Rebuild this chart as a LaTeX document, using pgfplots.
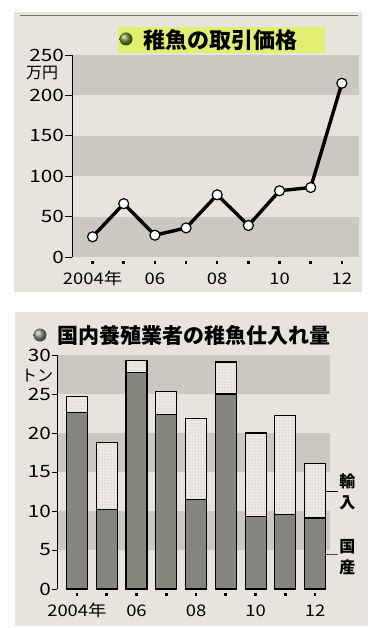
\documentclass[border=0pt]{standalone}
\usepackage{fontspec}
\setmainfont{Noto Sans CJK JP}
\newfontfamily\numfont[FakeStretch=1.15]{Noto Sans CJK JP}
\newfontfamily\ynumfont[FakeStretch=1.22]{Noto Sans CJK JP}
\usepackage{pgfplots}
\usepackage{pgfplotstable}
\pgfplotsset{compat=1.18}
\usetikzlibrary{patterns}
\definecolor{paper}{HTML}{E6E4DD}
\definecolor{band}{HTML}{CAC8C0}
\definecolor{dom}{HTML}{86867E}
\definecolor{imp}{HTML}{ECEAE3}
\definecolor{hl}{HTML}{E2EE72}
\definecolor{ballg}{HTML}{6E8F2A}
\newcommand\dd{\rule{2.6pt}{2.6pt}}
\pgfplotstableread{
year price
2004 25
2005 66
2006 27
2007 36
2008 77
2009 39
2010 82
2011 86
2012 215
}\pricetab
\pgfplotstableread{
year dom imp
2004 22.6 2.1
2005 10.2 8.6
2006 27.7 1.6
2007 22.4 2.9
2008 11.5 10.4
2009 25.0 4.1
2010 9.3 10.7
2011 9.6 12.6
2012 9.1 7.0
}\qtytab
\pgfplotsset{
  common/.style={
    scale only axis, anchor=south west, clip=false, axis on top,
    axis y line*=left, axis x line*=bottom,
    axis line style={-, line width=0.8pt, black},
    x axis line style={draw=none},
    xtick={2004,...,2012},
    xticklabels={{\dd\\[1.5pt]2004年},{\dd},{\dd\\[1.5pt]06},{\dd},{\dd\\[1.5pt]08},{\dd},{\dd\\[1.5pt]10},{\dd},{\dd\\[1.5pt]12}},
    xtick style={draw=none},
    ytick align=outside, ytick pos=left,
    ytick style={line width=0.8pt, black},
    /pgf/number format/assume math mode=true,
    yticklabel style={font=\fontsize{17}{17}\selectfont\ynumfont, inner sep=1pt},
    xticklabel style={font=\fontsize{16}{19}\selectfont\numfont, align=center, inner sep=0pt, yshift=-3.7pt},
  }
}
\begin{document}
\begin{tikzpicture}
\useasboundingbox (0pt,0pt) rectangle (374pt,-628pt);
% panel papers
\fill[paper] (14pt,-12pt) rectangle (362pt,-292pt);
\draw[black!55, line width=0.8pt] (20pt,-15pt) -- (358pt,-15pt);
\fill[paper] (15pt,-312pt) rectangle (368pt,-626pt);
% top title
\fill[hl] (118pt,-27pt) rectangle (325pt,-53pt);
\shade[ball color=ballg] (126pt,-39pt) circle (6.5pt);
\node[font=\fontsize{22}{22}\selectfont\bfseries, inner sep=0pt] at (220pt,-40pt) {稚魚の取引価格};
\node[font=\fontsize{16}{16}\selectfont, inner sep=0pt] at (42pt,-73pt) {万円};
\node[font=\fontsize{13}{13}\selectfont, text=black!65, inner sep=0pt, anchor=west] at (75pt,-72pt) {(1kg当たり)};
% bottom title
\shade[ball color=black!45] (40pt,-335pt) circle (6.5pt);
\node[font=\fontsize{21}{21}\selectfont\bfseries, inner sep=0pt] at (194pt,-335pt) {国内養殖業者の稚魚仕入れ量};
\node[font=\fontsize{16}{16}\selectfont, inner sep=0pt] at (37pt,-376pt) {トン};

\begin{axis}[common,
  at={(72pt,-257pt)}, width=287pt, height=202pt,
  xmin=2003.34, xmax=2012.55, ymin=0, ymax=250,
  ytick={0,50,...,250}, major tick length=7pt]
\fill[band] (axis cs:2003.34,0) rectangle (axis cs:2012.55,50);
\fill[band] (axis cs:2003.34,100) rectangle (axis cs:2012.55,150);
\fill[band] (axis cs:2003.34,200) rectangle (axis cs:2012.55,250);
\addplot[black, line width=3.4pt, mark=*, mark size=5pt,
  mark options={fill=white, draw=black, line width=1.2pt}]
  table[x=year, y=price] {\pricetab};
\end{axis}

% background bands for lower panel
\begin{axis}[scale only axis, anchor=south west, hide axis,
  at={(57pt,-589pt)}, width=273pt, height=234pt,
  xmin=2003.33, xmax=2012.5, ymin=0, ymax=30]
\fill[band] (axis cs:2003.33,5) rectangle (axis cs:2012.5,10);
\fill[band] (axis cs:2003.33,15) rectangle (axis cs:2012.5,20);
\fill[band] (axis cs:2003.33,25) rectangle (axis cs:2012.5,30);
\end{axis}

\begin{axis}[common,
  at={(57pt,-589pt)}, width=273pt, height=234pt,
  xmin=2003.33, xmax=2012.5, ymin=0, ymax=30,
  ytick={0,5,...,30}, major tick length=5pt,
  ybar stacked, bar width=21pt]
\addplot[fill=dom, draw=black, line width=1.1pt] table[x=year, y=dom] {\qtytab};
\addplot[fill=imp, draw=black, line width=1.1pt,
  postaction={pattern=dots, pattern color=black!35}] table[x=year, y=imp] {\qtytab};
\draw[black, line width=0.6pt] (axis cs:2012.03,12.5) -- (axis cs:2012.77,12.5);
\draw[black!70, line width=0.6pt] (axis cs:2012.03,4.5) -- (axis cs:2012.77,4.5);
\node[font=\fontsize{16}{21}\selectfont\bfseries, align=center, inner sep=0pt] at (axis cs:2013.08,12.4) {輸\\入};
\node[font=\fontsize{16}{21}\selectfont\bfseries, align=center, inner sep=0pt] at (axis cs:2013.08,4.1) {国\\産};
\end{axis}
\end{tikzpicture}
\end{document}
